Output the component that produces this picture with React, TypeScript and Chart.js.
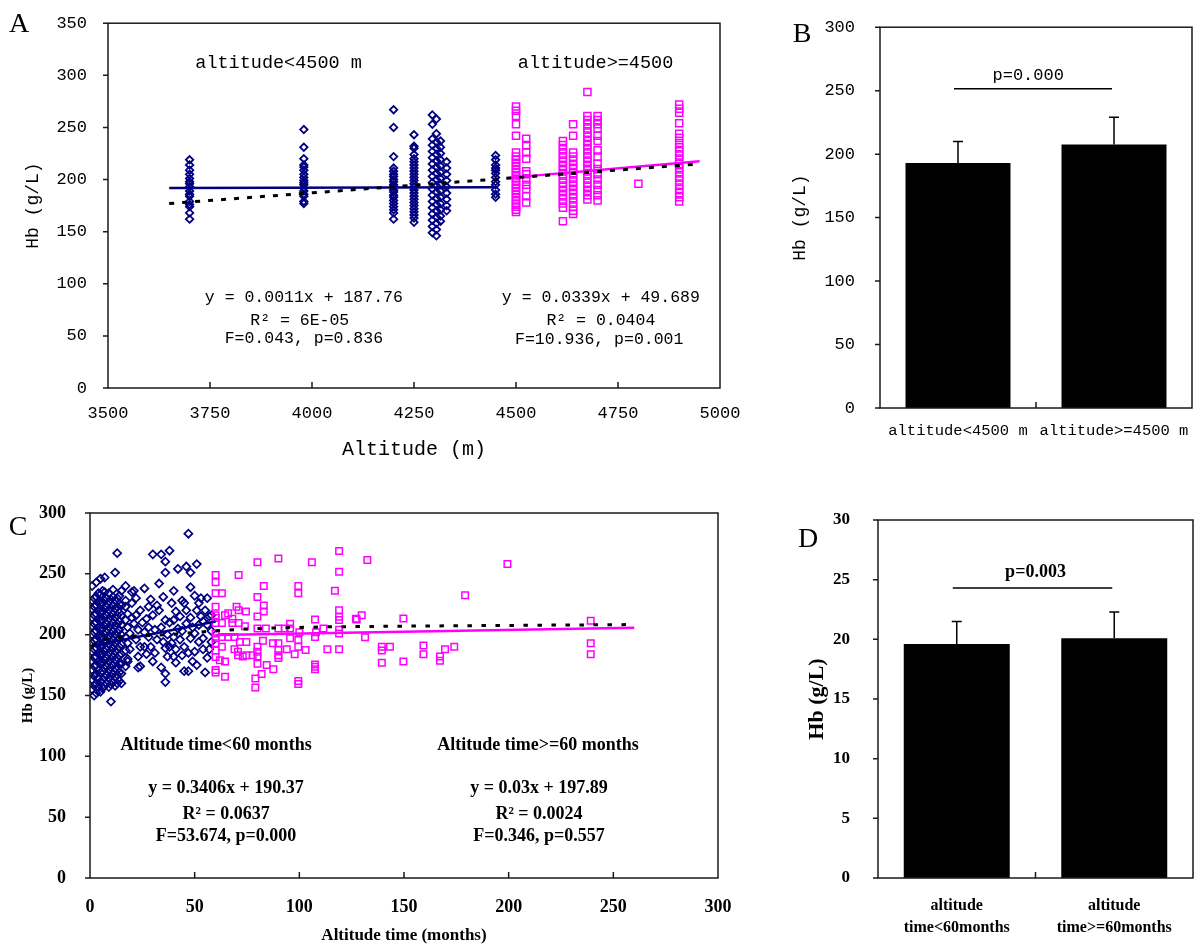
import React, { useEffect, useRef } from 'react';
import { Chart, registerables } from 'chart.js';
Chart.register(...registerables);

const MONO = '"Liberation Mono", "DejaVu Sans Mono", monospace';
const SERIF = '"Liberation Serif", "DejaVu Serif", serif';
const NAVY = '#000080';
const MAG = '#ff00ff';

// ---------------- Panel A : Hb vs altitude ----------------
const blueAltA = [3700, 3980, 4200, 4250, 4295, 4305, 4315, 4330, 4450];
const blueHbA = [
  [219, 214, 209, 205, 201, 198, 196, 193, 189, 186, 184, 179, 176, 174, 168, 162],
  [248, 231, 220, 214, 212, 209, 205, 202, 199, 197, 195, 192, 189, 186, 184, 179, 177],
  [267, 250, 222, 211, 208, 205, 203, 200, 198, 195, 193, 190, 188, 185, 183, 180, 177, 174, 171, 168, 162],
  [243, 232, 230, 224, 220, 217, 214, 211, 208, 205, 202, 199, 196, 193, 190, 187, 184, 181, 178, 175, 172, 169, 166, 163, 159],
  [262, 253, 239, 233, 227, 221, 215, 209, 203, 197, 191, 185, 179, 173, 167, 161, 155, 149],
  [258, 244, 236, 230, 224, 218, 212, 206, 200, 194, 188, 182, 176, 170, 164, 158, 152, 146],
  [237, 231, 225, 219, 213, 207, 201, 195, 189, 183, 177, 171, 165, 160],
  [217, 211, 205, 199, 193, 187, 181, 175, 170],
  [223, 219, 214, 211, 209, 206, 202, 198, 195, 190, 186, 183],
];
const pinkAltA = [4500, 4525, 4615, 4640, 4675, 4700, 4800, 4900];
const pinkHbA = [
  [270, 266, 261, 253, 242, 226, 222, 219, 216, 213, 210, 207, 204, 201, 198, 195, 192, 189, 186, 183, 180, 177, 174, 171, 169],
  [239, 233, 226, 220, 208, 205, 200, 195, 191, 184, 178],
  [237, 233, 229, 225, 221, 217, 213, 209, 205, 201, 197, 193, 189, 185, 181, 177, 173, 160],
  [253, 242, 226, 222, 218, 214, 210, 206, 202, 198, 194, 190, 186, 182, 178, 174, 170, 167],
  [284, 261, 257, 253, 249, 245, 241, 237, 233, 229, 225, 221, 217, 213, 209, 205, 201, 197, 193, 189, 185, 181],
  [261, 257, 253, 249, 242, 237, 228, 222, 215, 210, 205, 200, 195, 190, 185, 180],
  [196],
  [272, 268, 264, 254, 244, 240, 235, 231, 227, 223, 219, 215, 211, 207, 203, 199, 195, 191, 187, 183, 179],
];
const blueFitA = [[3650, 191.8], [4450, 192.7]];
const pinkFitA = [[4480, 201.6], [4950, 217.5]];
const allFitA = [[3650, 177], [4950, 215]];

// ---------------- Panel B : bar, altitude groups ----------------
const groupsB = ['altitude<4500 m', 'altitude>=4500 m'];
const meansB = [193, 207.5];
const sdB = [17, 21.5];
const sigLevelB = 251.5;
const sigTextB = 'p=0.000';

// ---------------- Panel C : Hb vs altitude time ----------------
const blueMonthsC = [1, 2, 3, 4, 5, 6, 7, 8, 9, 10, 11, 12, 13, 14, 15];
const blueDenseC = [
  [155, 163, 171, 178, 186, 193, 200, 207, 214, 221, 228, 240],
  [150, 158, 166, 174, 181, 188, 195, 202, 209, 216, 223, 230],
  [152, 160, 168, 175, 182, 189, 196, 203, 210, 217, 224, 231, 243],
  [157, 164, 171, 178, 185, 192, 199, 206, 213, 220, 227, 234],
  [153, 161, 169, 177, 184, 191, 198, 205, 212, 219, 226, 233, 246],
  [156, 163, 170, 177, 184, 191, 198, 205, 212, 219, 226, 236],
  [158, 165, 172, 179, 186, 193, 200, 207, 214, 221, 228, 235, 247],
  [160, 167, 174, 181, 188, 195, 202, 209, 216, 223, 230],
  [157, 164, 171, 178, 185, 192, 199, 206, 213, 220, 227, 234],
  [145, 159, 166, 173, 180, 187, 194, 201, 208, 215, 222, 229],
  [161, 168, 175, 182, 189, 196, 203, 210, 217, 224, 231, 237],
  [158, 165, 172, 179, 186, 193, 200, 207, 214, 221, 228, 251],
  [160, 167, 174, 181, 188, 195, 202, 209, 216, 223, 230, 267],
  [162, 169, 176, 183, 190, 197, 204, 211, 218, 225, 232],
  [160, 168, 176, 184, 192, 200, 208, 216, 224, 236],
];
const blueSparseC = [
  [17, 240], [17, 228], [17, 223], [18, 217], [17, 212], [18, 206], [17, 198], [18, 193], [17, 187], [18, 180], [17, 174], [18, 178],
  [21, 236], [20, 235], [22, 230], [24, 220], [22, 216], [25, 210], [23, 204], [22, 196], [24, 190], [23, 182], [23, 173], [24, 174],
  [26, 238], [28, 223], [30, 216], [28, 206], [31, 204], [28, 198], [29, 190], [30, 178], [31, 185], [30, 266],
  [33, 242], [35, 231], [33, 220], [36, 212], [34, 206], [37, 200], [35, 194], [36, 189], [37, 182], [36, 168], [36, 161], [34, 173],
  [36, 260], [36, 251], [34, 266], [38, 269],
  [40, 236], [39, 226], [41, 219], [40, 212], [42, 205], [40, 198], [39, 193], [41, 188], [40, 182], [41, 177],
  [42, 254], [46, 256], [47, 283], [48, 251], [48, 239], [45, 226], [46, 220], [48, 214], [46, 209], [44, 203], [48, 197], [45, 190],
  [47, 185], [45, 170], [47, 170], [49, 178],
  [51, 258], [50, 232], [52, 226], [51, 220], [53, 215], [52, 208], [50, 201], [52, 194], [51, 175], [54, 188],
  [55, 169], [56, 181], [56, 230], [55, 220], [57, 215], [56, 208], [58, 194], [57, 188], [58, 203], [58, 216], [54, 197],
  [19, 201], [20, 214], [21, 209], [26, 202], [27, 213], [26, 190], [19, 188], [20, 226], [27, 184], [29, 229], [32, 224], [32, 196],
  [38, 210], [38, 190], [43, 196], [43, 215], [44, 228], [49, 206], [53, 230], [54, 211], [44, 183], [50, 186],
];
const pinkC = [
  [60, 249], [60, 243], [60, 234], [60, 223], [60, 216], [60, 213.7], [60, 209.6], [60, 201], [60, 197], [60, 193], [60, 187], [60, 181.6], [60, 171], [60, 169],
  [71, 249], [80, 259.5], [90, 262.7], [106, 259.5], [119, 268.8], [119, 251.7], [83, 240], [99.5, 240], [99.5, 234], [117, 236], [63, 234],
  [80, 231], [83, 224], [83, 219], [70, 223], [74.5, 219], [71, 220], [66, 217.5], [64.5, 216], [68, 213], [80, 215], [107.5, 212.5],
  [119, 220], [119, 214.7], [119, 212], [127, 213], [95.6, 209], [68, 209.5], [71, 209.5], [63, 209.5], [74, 207], [80, 205], [84, 205],
  [90, 205], [93, 205], [95.6, 205], [100, 202], [108, 202], [111.5, 205], [119, 204], [119, 201],
  [63, 198], [66, 198], [69, 198], [95.6, 197], [107.5, 198], [71.6, 194], [74.7, 194], [82.6, 195], [87.4, 193], [90, 193], [99.5, 195.6],
  [99.5, 190], [63, 190], [69, 188], [70.7, 186], [73, 182], [70.7, 183], [80, 190], [80, 186], [80, 182], [80, 176], [77.7, 183], [74.7, 183],
  [90, 187.4], [90, 183], [90, 180.8], [94, 188], [97.8, 184], [103, 187.4], [113.4, 188], [119, 188], [62, 179], [64.5, 178],
  [107.5, 175.5], [107.5, 173.6], [107.5, 171.5], [84.4, 175], [87.6, 171.5], [82, 167.7], [64.5, 165.4], [79, 164], [79, 156.6],
  [99.5, 162], [99.5, 159.4],
  [132.5, 261.4], [199.4, 258], [179.2, 232.3], [127.4, 212.5], [129.8, 216], [149.7, 213.3], [239.2, 211.4], [131.4, 197.8],
  [139.4, 190], [139.4, 187], [143.3, 190], [159.3, 191], [159.3, 184], [169.6, 188], [174, 190], [167.2, 182], [167.2, 178.5],
  [139.4, 177], [149.7, 178], [239.2, 193], [239.2, 184],
];
const blueFitC = [[0, 190.4], [60, 210.8]];
const pinkFitC = [[60, 199.7], [260, 205.7]];
const allFitC = [[1, 190.5], [3, 194], [8, 196.5], [16, 198.3], [29, 199.4], [41, 200.5], [59, 203], [73, 204.6], [92, 205.7],
  [116, 206.5], [150, 207], [200, 207.6], [258, 208.3]];

// ---------------- Panel D : bar, altitude time groups ----------------
const groupsD = [['altitude', 'time<60months'], ['altitude', 'time>=60months']];
const meansD = [19.6, 20.1];
const sdD = [1.9, 2.2];
const sigLevelD = 24.3;
const sigTextD = 'p=0.003';

// ---------------- helpers ----------------
const xy = (pairs: number[][]) => pairs.map(([x, y]) => ({ x, y }));
const columns = (xs: number[], ys: number[][]) => xs.flatMap((x, i) => ys[i].map((y) => ({ x, y })));

type Txt = { x: number; y: number; t: string; font: string };

const framePlugin = (mode: 'ticks' | 'mid', letter: string, lx: number, ly: number) => ({
  id: 'frame',
  afterDatasetsDraw(chart: any) {
    const { ctx, chartArea: a, scales } = chart;
    ctx.save();
    ctx.strokeStyle = '#1a1a1a';
    ctx.lineWidth = 1.5;
    ctx.strokeRect(a.left, a.top, a.right - a.left, a.bottom - a.top);
    ctx.beginPath();
    for (const t of scales.y.ticks) {
      const y = scales.y.getPixelForValue(t.value);
      ctx.moveTo(a.left - 5, y);
      ctx.lineTo(a.left, y);
    }
    if (mode === 'ticks') {
      const tk = scales.x.ticks;
      for (let i = 1; i < tk.length - 1; i++) {
        const x = scales.x.getPixelForValue(tk[i].value);
        ctx.moveTo(x, a.bottom);
        ctx.lineTo(x, a.bottom - 6);
      }
    } else {
      const x = (scales.x.getPixelForValue(0) + scales.x.getPixelForValue(1)) / 2;
      ctx.moveTo(x, a.bottom);
      ctx.lineTo(x, a.bottom - 6);
    }
    ctx.stroke();
    ctx.fillStyle = '#000';
    ctx.font = `28px ${SERIF}`;
    ctx.textAlign = 'center';
    ctx.textBaseline = 'alphabetic';
    ctx.fillText(letter, lx, ly);
    ctx.restore();
  },
});

const textPlugin = (items: Txt[]) => ({
  id: 'texts',
  afterDraw(chart: any) {
    const { ctx, scales } = chart;
    ctx.save();
    ctx.fillStyle = '#000';
    ctx.textAlign = 'center';
    ctx.textBaseline = 'middle';
    for (const it of items) {
      ctx.font = it.font;
      ctx.fillText(it.t, scales.x.getPixelForValue(it.x), scales.y.getPixelForValue(it.y));
    }
    ctx.restore();
  },
});

const errPlugin = (means: number[], sds: number[], sig: number) => ({
  id: 'errs',
  afterDatasetsDraw(chart: any) {
    const { ctx, scales } = chart;
    ctx.save();
    ctx.strokeStyle = '#000';
    ctx.lineWidth = 1.5;
    ctx.beginPath();
    means.forEach((m, i) => {
      const x = scales.x.getPixelForValue(i);
      const y0 = scales.y.getPixelForValue(m);
      const y1 = scales.y.getPixelForValue(m + sds[i]);
      ctx.moveTo(x, y0);
      ctx.lineTo(x, y1);
      ctx.moveTo(x - 5, y1);
      ctx.lineTo(x + 5, y1);
    });
    const ys = scales.y.getPixelForValue(sig);
    ctx.moveTo(scales.x.getPixelForValue(0) - 4, ys);
    ctx.lineTo(scales.x.getPixelForValue(1) - 2, ys);
    ctx.stroke();
    ctx.restore();
  },
});

const noPlugins = { legend: { display: false }, tooltip: { enabled: false } };

const lineDs = (pairs: number[][], color: string, width: number, dash: number[] = []) => ({
  data: xy(pairs),
  showLine: true,
  borderColor: color,
  borderWidth: width,
  borderDash: dash,
  pointRadius: 0,
  fill: false,
});

const ptsDs = (data: any[], style: string, r: number, color: string, bw: number) => ({
  data,
  showLine: false,
  pointStyle: style,
  pointRadius: r,
  borderColor: color,
  backgroundColor: 'rgba(0,0,0,0)',
  borderWidth: bw,
});

// ---------------- configs ----------------
const configA = () => ({
  type: 'scatter',
  data: {
    datasets: [
      lineDs(allFitA, '#000', 3, [5, 8]),
      lineDs(blueFitA, NAVY, 2.5),
      lineDs(pinkFitA, MAG, 2.5),
      ptsDs(columns(pinkAltA, pinkHbA), 'rect', 5, MAG, 1.5),
      ptsDs(columns(blueAltA, blueHbA), 'rectRot', 3.7, NAVY, 1.8),
    ],
  },
  options: {
    responsive: false,
    animation: false,
    events: [],
    layout: { padding: { left: 0, top: 15, right: 20, bottom: 0 } },
    plugins: noPlugins,
    scales: {
      x: {
        type: 'linear', min: 3500, max: 5000,
        afterFit: (s: any) => { s.height = 82; s.paddingLeft = 0; s.paddingRight = 0; },
        grid: { display: false }, border: { display: false },
        ticks: { stepSize: 250, autoSkip: false, maxRotation: 0, padding: 7, color: '#000', font: { family: MONO, size: 17 }, callback: (v: any) => String(v) },
        title: { display: true, text: 'Altitude (m)', color: '#000', font: { family: MONO, size: 20 }, padding: { top: 0, bottom: 8 } },
      },
      y: {
        min: 0, max: 350,
        afterFit: (s: any) => { s.width = 108; },
        grid: { display: false }, border: { display: false },
        ticks: { stepSize: 50, padding: 13, color: '#000', font: { family: MONO, size: 17 }, callback: (v: any) => String(v) },
        title: { display: true, text: 'Hb (g/L)', color: '#000', font: { family: MONO, size: 18 }, padding: { top: 22, bottom: 0 } },
      },
    },
  },
  plugins: [
    framePlugin('ticks', 'A', 19, 32),
    textPlugin([
      { x: 3918, y: 311.5, t: 'altitude<4500 m', font: `18.5px ${MONO}` },
      { x: 4695, y: 311.5, t: 'altitude>=4500', font: `18.5px ${MONO}` },
      { x: 3980, y: 87, t: 'y = 0.0011x + 187.76', font: `16.5px ${MONO}` },
      { x: 3970, y: 64.7, t: 'R² = 6E-05', font: `16.5px ${MONO}` },
      { x: 3980, y: 47, t: 'F=0.043, p=0.836', font: `16.5px ${MONO}` },
      { x: 4708, y: 86.3, t: 'y = 0.0339x + 49.689', font: `16.5px ${MONO}` },
      { x: 4708, y: 64.7, t: 'R² = 0.0404', font: `16.5px ${MONO}` },
      { x: 4704, y: 46, t: 'F=10.936, p=0.001', font: `16.5px ${MONO}` },
    ]),
  ],
});

const configB = () => ({
  type: 'bar',
  data: {
    labels: groupsB,
    datasets: [{ data: meansB, backgroundColor: '#000', borderWidth: 0, barPercentage: 0.673, categoryPercentage: 1 }],
  },
  options: {
    responsive: false,
    animation: false,
    events: [],
    layout: { padding: { left: 0, top: 18, right: 8, bottom: 0 } },
    plugins: noPlugins,
    scales: {
      x: {
        afterFit: (s: any) => { s.height = 62; s.paddingLeft = 0; s.paddingRight = 0; },
        grid: { display: false }, border: { display: false },
        ticks: { autoSkip: false, maxRotation: 0, padding: 5.4, color: '#000', font: { family: MONO, size: 15.5 } },
      },
      y: {
        min: 0, max: 300,
        afterFit: (s: any) => { s.width = 140; },
        grid: { display: false }, border: { display: false },
        ticks: { stepSize: 50, padding: 17, color: '#000', font: { family: MONO, size: 17 }, callback: (v: any) => String(v) },
        title: { display: true, text: 'Hb (g/L)', color: '#000', font: { family: MONO, size: 18 }, padding: { top: 49, bottom: 0 } },
      },
    },
  },
  plugins: [
    framePlugin('mid', 'B', 62, 42),
    errPlugin(meansB, sdB, sigLevelB),
    textPlugin([{ x: 0.45, y: 262.3, t: sigTextB, font: `17px ${MONO}` }]),
  ],
});

const configC = () => ({
  type: 'scatter',
  data: {
    datasets: [
      lineDs(allFitC, '#000', 3, [4.5, 9.5]),
      lineDs(blueFitC, NAVY, 2.5),
      lineDs(pinkFitC, MAG, 2.5),
      ptsDs(xy(pinkC), 'rect', 4.6, MAG, 1.5),
      ptsDs([...columns(blueMonthsC, blueDenseC), ...xy(blueSparseC)], 'rectRot', 4, NAVY, 1.7),
    ],
  },
  options: {
    responsive: false,
    animation: false,
    events: [],
    layout: { padding: { left: 0, top: 33, right: 22, bottom: 0 } },
    plugins: noPlugins,
    scales: {
      x: {
        type: 'linear', min: 0, max: 300,
        afterFit: (s: any) => { s.height = 72; s.paddingLeft = 0; s.paddingRight = 0; },
        grid: { display: false }, border: { display: false },
        ticks: { stepSize: 50, autoSkip: false, maxRotation: 0, padding: 11, color: '#000', font: { family: SERIF, size: 18, weight: 'bold' }, callback: (v: any) => String(v) },
        title: { display: true, text: 'Altitude time (months)', color: '#000', font: { family: SERIF, size: 17, weight: 'bold' }, padding: { top: 0, bottom: 4 } },
      },
      y: {
        min: 0, max: 300,
        afterFit: (s: any) => { s.width = 90; },
        grid: { display: false }, border: { display: false },
        ticks: { stepSize: 50, padding: 16, color: '#000', font: { family: SERIF, size: 18, weight: 'bold' }, callback: (v: any) => String(v) },
        title: { display: true, text: 'Hb (g/L)', color: '#000', font: { family: SERIF, size: 15, weight: 'bold' }, padding: { top: 19, bottom: 0 } },
      },
    },
  },
  plugins: [
    framePlugin('ticks', 'C', 18, 535 - 480),
    textPlugin([
      { x: 60.2, y: 109.3, t: 'Altitude time<60 months', font: `bold 18px ${SERIF}` },
      { x: 214, y: 109.3, t: 'Altitude time>=60 months', font: `bold 18px ${SERIF}` },
      { x: 65, y: 74, t: 'y = 0.3406x + 190.37', font: `bold 18px ${SERIF}` },
      { x: 65, y: 52, t: 'R² = 0.0637', font: `bold 18px ${SERIF}` },
      { x: 65, y: 34, t: 'F=53.674, p=0.000', font: `bold 18px ${SERIF}` },
      { x: 214.5, y: 74, t: 'y = 0.03x + 197.89', font: `bold 18px ${SERIF}` },
      { x: 214.5, y: 52, t: 'R² = 0.0024', font: `bold 18px ${SERIF}` },
      { x: 214.5, y: 34, t: 'F=0.346, p=0.557', font: `bold 18px ${SERIF}` },
    ]),
  ],
});

const configD = () => ({
  type: 'bar',
  data: {
    labels: groupsD,
    datasets: [{ data: meansD, backgroundColor: '#000', borderWidth: 0, barPercentage: 0.673, categoryPercentage: 1 }],
  },
  options: {
    responsive: false,
    animation: false,
    events: [],
    layout: { padding: { left: 0, top: 40, right: 7, bottom: 0 } },
    plugins: noPlugins,
    scales: {
      x: {
        afterFit: (s: any) => { s.height = 72; s.paddingLeft = 0; s.paddingRight = 0; },
        grid: { display: false }, border: { display: false },
        ticks: { autoSkip: false, maxRotation: 0, padding: 9, color: '#000', font: { family: SERIF, size: 16, weight: 'bold', lineHeight: 1.375 } },
      },
      y: {
        min: 0, max: 30,
        afterFit: (s: any) => { s.width = 138; },
        grid: { display: false }, border: { display: false },
        ticks: { stepSize: 5, padding: 20, color: '#000', font: { family: SERIF, size: 17, weight: 'bold' }, callback: (v: any) => String(v) },
        title: { display: true, text: 'Hb (g/L)', color: '#000', font: { family: SERIF, size: 22, weight: 'bold' }, padding: { top: 64, bottom: 0 } },
      },
    },
  },
  plugins: [
    framePlugin('mid', 'D', 68, 547 - 480),
    errPlugin(meansD, sdD, sigLevelD),
    textPlugin([{ x: 0.5, y: 25.6, t: sigTextD, font: `bold 18px ${SERIF}` }]),
  ],
});

function ChartBox({ left, top, width, height, config }: { left: number; top: number; width: number; height: number; config: () => any }) {
  const ref = useRef<HTMLCanvasElement>(null);
  useEffect(() => {
    const chart = new Chart(ref.current as HTMLCanvasElement, config());
    return () => chart.destroy();
  }, []);
  return (
    <canvas
      ref={ref}
      width={width}
      height={height}
      style={{ position: 'absolute', left, top, width, height, display: 'block' }}
    />
  );
}

export default function App() {
  return (
    <div style={{ position: 'absolute', left: 0, top: 0, width: 1200, height: 950, background: '#fff' }}>
      <ChartBox left={0} top={0} width={740} height={470} config={configA} />
      <ChartBox left={740} top={0} width={460} height={470} config={configB} />
      <ChartBox left={0} top={480} width={740} height={470} config={configC} />
      <ChartBox left={740} top={480} width={460} height={470} config={configD} />
    </div>
  );
}
